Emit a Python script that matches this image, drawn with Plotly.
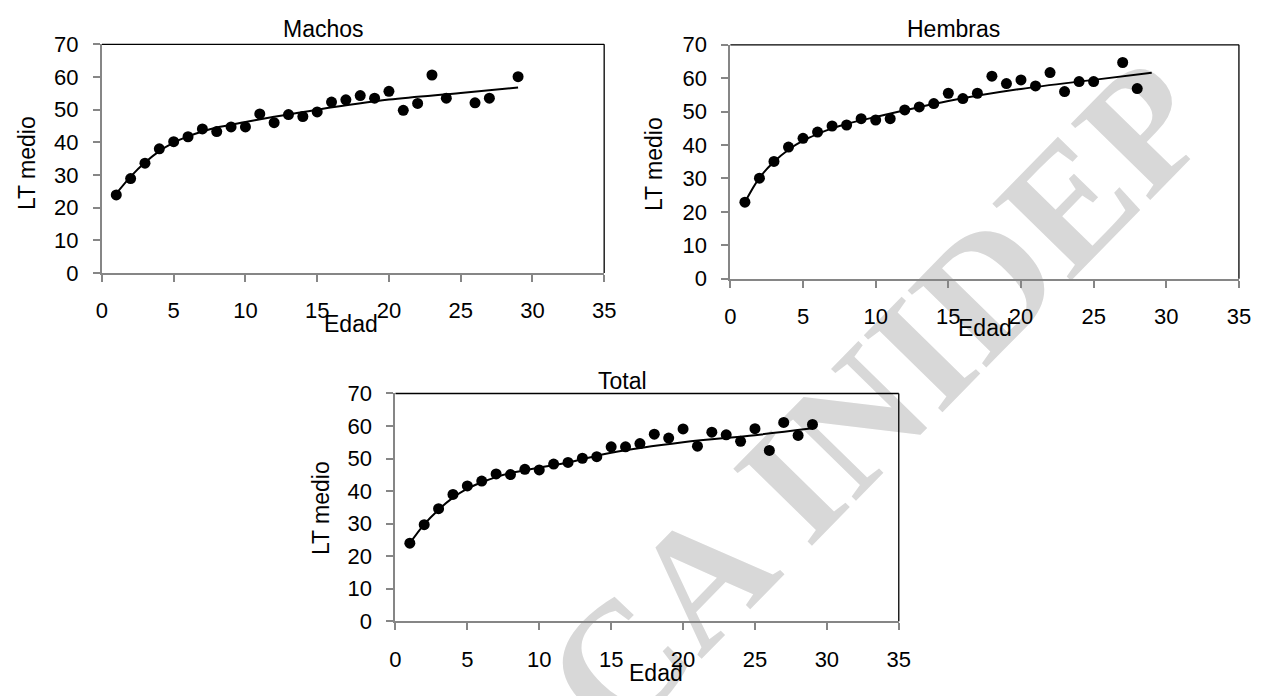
import plotly.graph_objects as go

# ---------------- data ----------------
edad_machos = [1, 2, 3, 4, 5, 6, 7, 8, 9, 10, 11, 12, 13, 14, 15, 16, 17, 18, 19, 20, 21, 22, 23, 24, 26, 27, 29]
lt_machos = [23.9, 28.9, 33.6, 38.0, 40.2, 41.7, 44.1, 43.3, 44.7, 44.7, 48.7, 46.0, 48.5, 47.9, 49.3,
             52.3, 53.0, 54.3, 53.5, 55.6, 49.8, 51.9, 60.6, 53.5, 52.1, 53.5, 60.1]

edad_hembras = [1, 2, 3, 4, 5, 6, 7, 8, 9, 10, 11, 12, 13, 14, 15, 16, 17, 18, 19, 20, 21, 22, 23, 24, 25, 27, 28]
lt_hembras = [22.9, 30.1, 35.1, 39.4, 42.0, 43.9, 45.7, 46.0, 47.9, 47.5, 47.9, 50.5, 51.4, 52.4, 55.5,
              53.9, 55.5, 60.6, 58.4, 59.5, 57.7, 61.7, 56.0, 59.0, 59.0, 64.7, 56.9]

edad_total = [1, 2, 3, 4, 5, 6, 7, 8, 9, 10, 11, 12, 13, 14, 15, 16, 17, 18, 19, 20, 21, 22, 23, 24, 25, 26, 27, 28, 29]
lt_total = [24.0, 29.7, 34.6, 39.0, 41.6, 43.1, 45.3, 45.1, 46.7, 46.5, 48.3, 48.8, 50.1, 50.6, 53.6,
            53.6, 54.6, 57.5, 56.3, 59.1, 53.8, 58.1, 57.3, 55.3, 59.2, 52.5, 61.1, 57.1, 60.5]

# fitted curves at these ages
edad_ajuste = [1, 2, 3, 4, 5, 6, 7, 8, 10, 12, 15, 20, 25, 29]
ajuste_machos = [24.3, 29.5, 33.8, 37.3, 39.9, 41.8, 43.3, 44.5, 46.2, 47.8, 50.0, 53.1, 55.1, 56.8]
ajuste_hembras = [22.9, 30.2, 35.0, 38.6, 41.3, 43.3, 45.0, 46.3, 48.4, 50.4, 53.2, 56.8, 59.5, 61.6]
ajuste_total = [24.0, 29.8, 34.3, 38.0, 40.8, 42.7, 44.3, 45.5, 47.2, 48.8, 51.8, 55.0, 57.2, 59.3]

titulos = ["Machos", "Hembras", "Total"]
x_ticks = [0, 5, 10, 15, 20, 25, 30, 35]
y_ticks = [0, 10, 20, 30, 40, 50, 60, 70]

# ---------------- layout helpers ----------------
W, H = 1281, 696
def fx(px):
    return px / W
def fy(py):
    return 1 - py / H

# plot boxes in pixels: (left, right, top, bottom)
boxes = [(97.3, 606.7, 33.5, 270.7), (734.7, 1250.5, 34.0, 276.7), (395.0, 905.5, 395.7, 632.0)]
title_pos = [(322, 18), (961, 18), (625, 383)]
ytitle_pos = [(22, 157), (658, 158), (319, 515)]
xtitle_pos = [(350, 324), (993, 328), (659, 686)]

FONT = "Liberation Sans, Arial, sans-serif"
AXIS_GREY = "#868686"

series = [(edad_machos, lt_machos, ajuste_machos),
          (edad_hembras, lt_hembras, ajuste_hembras),
          (edad_total, lt_total, ajuste_total)]

fig = go.Figure()

# watermark (below everything)
shapes = [dict(type="line", xref="paper", yref="paper",
               x0=fx(600), y0=fy(670), x1=fx(1140), y1=fy(105),
               line=dict(color="rgba(0,0,0,0)", width=0), layer="below",
               label=dict(text="CA INIDEP", textposition="middle", yanchor="middle",
                          font=dict(family="Liberation Serif, Times New Roman, serif",
                                    size=168, color="#d8d8d8", weight="bold")))]
annotations = []

for i, ((ex, ey, fit), box) in enumerate(zip(series, boxes)):
    n = "" if i == 0 else str(i + 1)
    xa, ya = "x" + n, "y" + n
    fig.add_trace(go.Scatter(x=edad_ajuste, y=fit, mode="lines", line=dict(color="black", width=2, shape="spline"),
                             xaxis=xa, yaxis=ya, showlegend=False, hoverinfo="skip"))
    fig.add_trace(go.Scatter(x=ex, y=ey, mode="markers", marker=dict(color="black", size=11),
                             xaxis=xa, yaxis=ya, showlegend=False))
    l, r, t, b = box
    common = dict(showgrid=False, zeroline=False, showline=True, linecolor=AXIS_GREY, linewidth=2,
                  ticks="outside", ticklen=7, tickwidth=1.5, tickcolor=AXIS_GREY,
                  tickfont=dict(family=FONT, size=22, color="black"))
    fig.layout["xaxis" + n] = dict(domain=[fx(l), fx(r)], range=[0, 35], tickvals=x_ticks,
                                   anchor=ya, ticklabelstandoff=10, **common)
    fig.layout["yaxis" + n] = dict(domain=[fy(b), fy(t)], range=[0, 70], tickvals=y_ticks,
                                   anchor=xa, ticklabelstandoff=10, **common)
    # top and right frame lines
    shapes.append(dict(type="line", xref=xa + " domain", yref=ya + " domain", x0=0, x1=1, y0=1, y1=1,
                       line=dict(color="black", width=1.3), layer="below"))
    shapes.append(dict(type="line", xref=xa + " domain", yref=ya + " domain", x0=1, x1=1, y0=0, y1=1,
                       line=dict(color="black", width=1.3), layer="below"))
    tx, ty = title_pos[i]
    annotations.append(dict(text=titulos[i], x=fx(tx), y=fy(ty), xref="paper", yref="paper",
                            showarrow=False, xanchor="center", yanchor="middle",
                            font=dict(family=FONT, size=23, color="black")))
    ax_, ay_ = ytitle_pos[i]
    annotations.append(dict(text="LT medio", x=fx(ax_), y=fy(ay_), xref="paper", yref="paper",
                            showarrow=False, textangle=-90, xanchor="center", yanchor="middle",
                            font=dict(family=FONT, size=23, color="black")))
    bx, by = xtitle_pos[i]
    annotations.append(dict(text="Edad", x=fx(bx), y=fy(by), xref="paper", yref="paper",
                            showarrow=False, xanchor="center", yanchor="middle",
                            font=dict(family=FONT, size=23, color="black")))

fig.update_layout(width=W, height=H, margin=dict(l=0, r=0, t=0, b=0),
                  paper_bgcolor="white", plot_bgcolor="rgba(0,0,0,0)",
                  shapes=shapes, annotations=annotations, showlegend=False)

fig.write_html("out.html", config={"displayModeBar": False})
